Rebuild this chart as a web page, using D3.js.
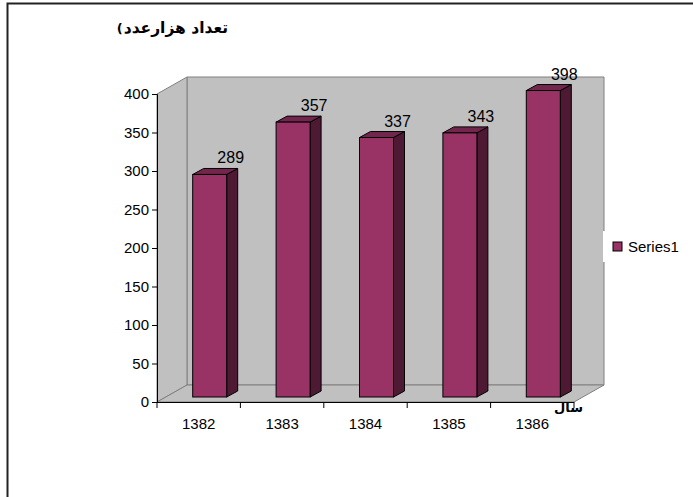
<!DOCTYPE html>
<html>
<head>
<meta charset="utf-8">
<script src="https://cdn.jsdelivr.net/npm/d3@7"></script>
<style>
  body { margin: 0; background: #fff; }
  svg { display: block; font-family: Arial, "Liberation Sans", sans-serif; }
</style>
</head>
<body>
<div id="chart"></div>
<script>
// Data
const years = ["1382", "1383", "1384", "1385", "1386"];
const values = [289, 357, 337, 343, 398];
const yTicks = [0, 50, 100, 150, 200, 250, 300, 350, 400];
const seriesName = "Series1";
const yTitle = "تعداد هزارعدد";
const xTitle = "سال";

const w = 693, h = 497;
const plotLeft = 157, plotRight = 574, plotTop = 94, plotBottom = 402;
const depthX = 30, depthY = -17;   // 3D wall depth
const barOffX = 11, barOffY = -5;  // bar front position in depth
const barDX = 11, barDY = -6;      // bar depth
const barW = 34;

const svg = d3.select("#chart").append("svg")
  .attr("width", w)
  .attr("height", h);

// outer frame
svg.append("path")
  .attr("d", `M7.5,${h} L7.5,3.5 L${w},3.5`)
  .attr("fill", "none")
  .attr("stroke", "#222")
  .attr("stroke-width", 2);

const x = d3.scaleBand().domain(years).range([plotLeft, plotRight]).padding(0);
const y = d3.scaleLinear().domain([0, 400]).range([plotBottom, plotTop]);

const pts = (arr) => arr.map(p => p.join(",")).join(" ");

// walls
const wallFill = "#c0c0c0", wallLine = "#808080";
svg.append("polygon") // back wall
  .attr("points", pts([[plotLeft + depthX, y(400) + depthY], [plotRight + depthX, y(400) + depthY],
    [plotRight + depthX, y(0) + depthY], [plotLeft + depthX, y(0) + depthY]]))
  .attr("fill", wallFill).attr("stroke", wallLine);
svg.append("polygon") // side wall
  .attr("points", pts([[plotLeft, y(400)], [plotLeft + depthX, y(400) + depthY],
    [plotLeft + depthX, y(0) + depthY], [plotLeft, y(0)]]))
  .attr("fill", wallFill).attr("stroke", wallLine);
svg.append("polygon") // floor
  .attr("points", pts([[plotLeft, y(0)], [plotLeft + depthX, y(0) + depthY],
    [plotRight + depthX, y(0) + depthY], [plotRight, y(0)]]))
  .attr("fill", wallFill).attr("stroke", wallLine);

// bars
const bars = svg.selectAll("g.bar")
  .data(years.map((d, i) => ({ year: d, value: values[i] })))
  .enter().append("g").attr("class", "bar");

bars.each(function (d) {
  const g = d3.select(this);
  const c = x(d.year) + x.bandwidth() / 2 + barOffX;
  const x0 = c - barW / 2, x1 = c + barW / 2;
  const yt = y(d.value) + barOffY, yb = y(0) + barOffY;
  g.append("polygon") // side
    .attr("points", pts([[x1, yt], [x1 + barDX, yt + barDY], [x1 + barDX, yb + barDY], [x1, yb]]))
    .attr("fill", "#4d1933").attr("stroke", "#000").attr("stroke-width", 1);
  g.append("polygon") // top
    .attr("points", pts([[x0, yt], [x0 + barDX, yt + barDY], [x1 + barDX, yt + barDY], [x1, yt]]))
    .attr("fill", "#73264d").attr("stroke", "#000").attr("stroke-width", 1);
  g.append("rect") // front
    .attr("x", x0).attr("y", yt)
    .attr("width", barW).attr("height", yb - yt)
    .attr("fill", "#993366").attr("stroke", "#000").attr("stroke-width", 1);
  g.append("text")
    .attr("x", c + 21)
    .attr("y", yt + barDY - 5)
    .attr("text-anchor", "middle")
    .style("font-size", "16px")
    .text(d.value);
});

// axes
const yAxis = d3.axisLeft(y).tickValues(yTicks).tickSize(5).tickPadding(3);
const gy = svg.append("g").attr("transform", `translate(${plotLeft},0)`).call(yAxis);
gy.select(".domain").attr("stroke", "#000");
gy.selectAll("text").style("font-size", "15px").style("font-family", "Arial, 'Liberation Sans'");

svg.append("line")
  .attr("x1", plotLeft).attr("x2", plotRight)
  .attr("y1", y(0) + 0.5).attr("y2", y(0) + 0.5)
  .attr("stroke", "#000");
svg.selectAll("line.xtick")
  .data(years.concat(["end"]))
  .enter().append("line")
  .attr("class", "xtick")
  .attr("x1", (d, i) => plotLeft + i * x.bandwidth())
  .attr("x2", (d, i) => plotLeft + i * x.bandwidth())
  .attr("y1", y(0)).attr("y2", y(0) + 6)
  .attr("stroke", "#000");
svg.selectAll("text.xlab")
  .data(years)
  .enter().append("text")
  .attr("class", "xlab")
  .attr("x", d => x(d) + x.bandwidth() / 2)
  .attr("y", y(0) + 27)
  .attr("text-anchor", "middle")
  .style("font-size", "15px")
  .text(d => d);

// axis titles
const titleFont = "'DejaVu Sans', sans-serif";
const tt = svg.append("text")
  .attr("x", 228).attr("y", 33)
  .attr("text-anchor", "end")
  .style("font-size", "15.5px").style("font-weight", "bold")
  .style("font-family", titleFont)
  .text(yTitle);
const ttLen = tt.node().getComputedTextLength();
svg.append("text")
  .attr("x", 228 - ttLen - 1).attr("y", 33)
  .attr("text-anchor", "end")
  .style("font-size", "13px").style("font-weight", "bold")
  .style("font-family", titleFont)
  .text("(");
svg.append("text")
  .attr("x", 583).attr("y", 412)
  .attr("text-anchor", "end")
  .style("font-size", "13px").style("font-weight", "bold")
  .style("font-family", titleFont)
  .text(xTitle);

// legend
const legend = svg.append("g").attr("transform", "translate(603,231)");
legend.append("rect").attr("width", 80).attr("height", 31).attr("fill", "#fff");
legend.append("rect")
  .attr("x", 10).attr("y", 11).attr("width", 9).attr("height", 9)
  .attr("fill", "#993366").attr("stroke", "#000");
legend.append("text")
  .attr("x", 25).attr("y", 21)
  .style("font-size", "15px")
  .text(seriesName);
</script>
</body>
</html>
